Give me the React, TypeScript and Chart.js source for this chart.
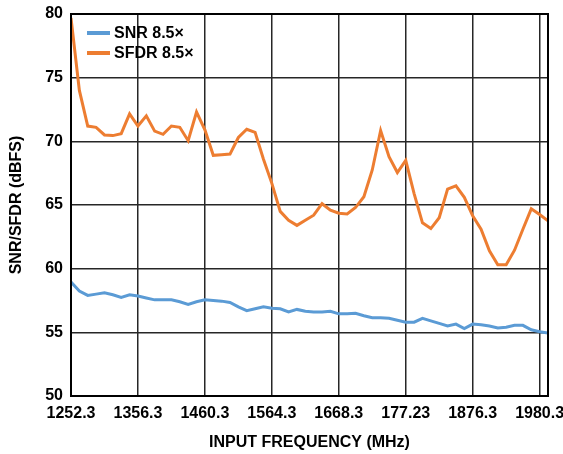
import React, { useEffect, useRef } from "react";
import { Chart, registerables } from "chart.js";

Chart.register(...registerables);

const frequencies = [
  1252.3, 1265.3, 1278.3, 1291.3, 1304.3, 1317.3, 1330.3, 1343.3, 1356.3, 1369.3,
  1382.3, 1395.3, 1408.3, 1421.3, 1434.3, 1447.3, 1460.3, 1473.3, 1486.3, 1499.3,
  1512.3, 1525.3, 1538.3, 1551.3, 1564.3, 1577.3, 1590.3, 1603.3, 1616.3, 1629.3,
  1642.3, 1655.3, 1668.3, 1681.3, 1694.3, 1707.3, 1720.3, 1733.3, 1746.3, 1759.3,
  1772.3, 1785.3, 1798.3, 1811.3, 1824.3, 1837.3, 1850.3, 1863.3, 1876.3, 1889.3,
  1902.3, 1915.3, 1928.3, 1941.3, 1954.3, 1967.3, 1980.3, 1993.3,
];

const snr = [
  58.95, 58.25, 57.9, 58.0, 58.1, 57.95, 57.75, 57.95, 57.85, 57.7,
  57.55, 57.55, 57.55, 57.4, 57.2, 57.4, 57.55, 57.5, 57.45, 57.35,
  57.0, 56.7, 56.85, 57.0, 56.9, 56.85, 56.6, 56.8, 56.65, 56.6,
  56.6, 56.65, 56.45, 56.45, 56.5, 56.3, 56.15, 56.15, 56.1, 55.95,
  55.8, 55.8, 56.1, 55.9, 55.7, 55.5, 55.65, 55.3, 55.65, 55.6,
  55.5, 55.35, 55.4, 55.55, 55.55, 55.2, 55.05, 54.95,
];

const sfdr = [
  79.7, 74.0, 71.2, 71.1, 70.5, 70.45, 70.6, 72.15, 71.2, 72.0,
  70.8, 70.55, 71.2, 71.1, 70.05, 72.3, 70.9, 68.9, 68.95, 69.0,
  70.3, 70.95, 70.7, 68.6, 66.7, 64.5, 63.8, 63.4, 63.8, 64.2,
  65.1, 64.6, 64.35, 64.3, 64.8, 65.65, 67.75, 70.85, 68.8, 67.55,
  68.5, 65.9, 63.6, 63.15, 64.0, 66.25, 66.5, 65.6, 64.15, 63.1,
  61.4, 60.3, 60.3, 61.45, 63.1, 64.7, 64.25, 63.75,
];

const xTickValues = [1252.3, 1356.3, 1460.3, 1564.3, 1668.3, 1772.3, 1876.3, 1980.3];
const xTickLabels = ["1252.3", "1356.3", "1460.3", "1564.3", "1668.3", "177.23", "1876.3", "1980.3"];
const seriesLabels = ["SNR 8.5×", "SFDR 8.5×"];
const seriesColors = ["#5B9BD5", "#ED7D31"];
const xTitle = "INPUT FREQUENCY (MHz)";
const yTitle = "SNR/SFDR (dBFS)";

const FAMILY = "'Liberation Sans', Arial, sans-serif";

const frameLegendPlugin = {
  id: "frameLegend",
  afterDraw(chart: any) {
    const { ctx, chartArea: a } = chart;
    ctx.save();
    ctx.strokeStyle = "#000";
    ctx.lineWidth = 2;
    ctx.strokeRect(a.left, a.top, a.right - a.left, a.bottom - a.top);
    ctx.font = `bold 16px ${FAMILY}`;
    ctx.textBaseline = "middle";
    ctx.textAlign = "left";
    chart.data.datasets.forEach((ds: any, i: number) => {
      const y = a.top + 19 + i * 20;
      const x0 = a.left + 16;
      ctx.strokeStyle = ds.borderColor;
      ctx.lineWidth = 4;
      ctx.lineCap = "butt";
      ctx.beginPath();
      ctx.moveTo(x0, y);
      ctx.lineTo(x0 + 23, y);
      ctx.stroke();
      ctx.fillStyle = "#000";
      ctx.fillText(ds.label, x0 + 27, y + 1);
    });
    ctx.restore();
  },
};

export default function App() {
  const canvasRef = useRef<HTMLCanvasElement | null>(null);

  useEffect(() => {
    if (!canvasRef.current) return;
    const font = { family: FAMILY, size: 16, weight: "bold" as const };
    const gridOpts = { color: "#262626", lineWidth: 1.5, drawTicks: false };
    const chart = new Chart(canvasRef.current, {
      type: "line",
      data: {
        datasets: [
          {
            label: seriesLabels[0],
            data: frequencies.map((f, i) => ({ x: f, y: snr[i] })),
            borderColor: seriesColors[0],
            backgroundColor: seriesColors[0],
            borderWidth: 3,
            pointRadius: 0,
            tension: 0,
          },
          {
            label: seriesLabels[1],
            data: frequencies.map((f, i) => ({ x: f, y: sfdr[i] })),
            borderColor: seriesColors[1],
            backgroundColor: seriesColors[1],
            borderWidth: 3,
            pointRadius: 0,
            tension: 0,
          },
        ],
      },
      options: {
        responsive: false,
        animation: false,
        layout: { padding: { left: 0, right: 15, top: 14, bottom: 0 } },
        plugins: { legend: { display: false }, tooltip: { enabled: false } },
        scales: {
          x: {
            type: "linear",
            bounds: "data",
            min: frequencies[0],
            max: frequencies[frequencies.length - 1],
            afterBuildTicks: (s: any) => {
              s.ticks = xTickValues.map((v) => ({ value: v }));
            },
            afterFit: (s: any) => {
              s.height = 58;
              s.paddingLeft = 0;
              s.paddingRight = 0;
            },
            ticks: {
              callback: (_v: any, i: number) => xTickLabels[i],
              font,
              color: "#000",
              padding: 8,
              maxRotation: 0,
              autoSkip: false,
            },
            grid: gridOpts,
            border: { display: false },
            title: {
              display: true,
              text: xTitle,
              font,
              color: "#000",
              padding: { top: 0, bottom: 2 },
            },
          },
          y: {
            min: 50,
            max: 80,
            afterFit: (s: any) => {
              s.width = 71;
              s.paddingTop = 0;
              s.paddingBottom = 0;
            },
            ticks: { stepSize: 5, font, color: "#000", padding: 8 },
            grid: gridOpts,
            border: { display: false },
            title: {
              display: true,
              text: yTitle,
              font,
              color: "#000",
              padding: { top: 7, bottom: 0 },
            },
          },
        },
      },
      plugins: [frameLegendPlugin],
    });
    return () => chart.destroy();
  }, []);

  return (
    <div style={{ position: "absolute", left: 0, top: 0, width: 563, height: 454, background: "#fff" }}>
      <canvas ref={canvasRef} width={563} height={454} style={{ display: "block" }} />
    </div>
  );
}
